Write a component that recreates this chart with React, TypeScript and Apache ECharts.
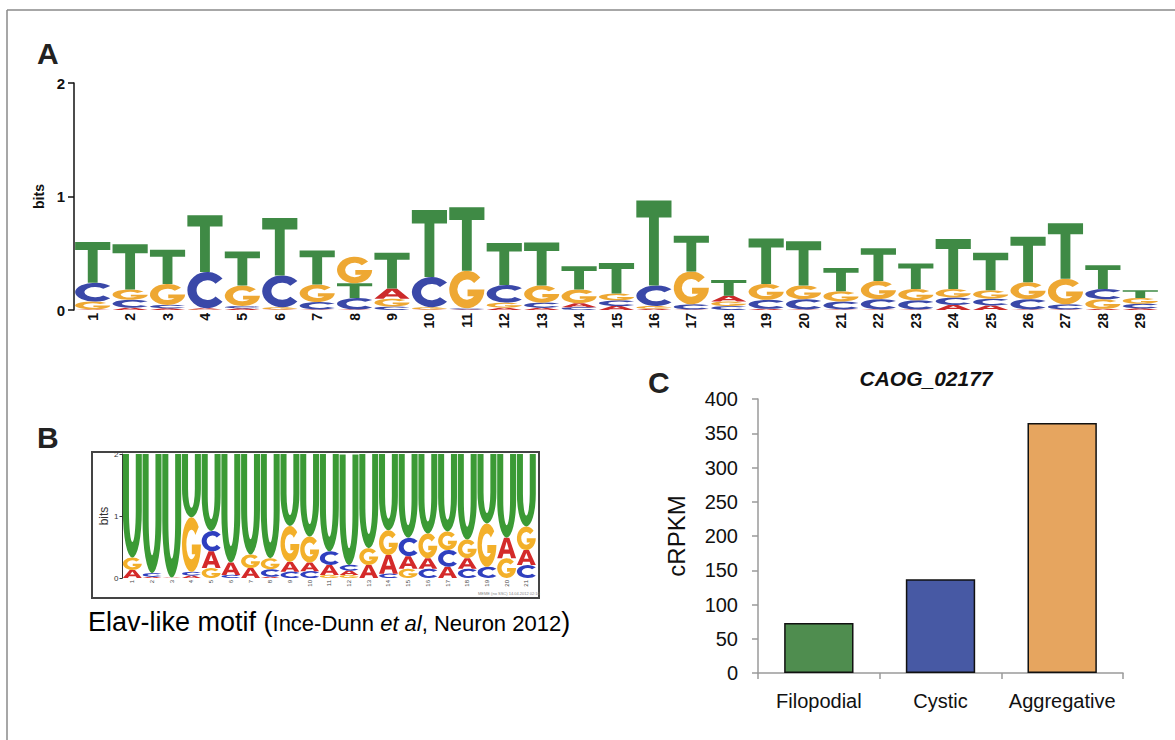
import React, { useEffect, useRef } from 'react';
import * as echarts from 'echarts';

// ---------- Panel A: sequence logo (bits per letter, per position) ----------
const positionsA = ['1','2','3','4','5','6','7','8','9','10','11','12','13','14','15','16','17','18','19','20','21','22','23','24','25','26','27','28','29'];
const logoA_A = [0.005,0.02,0.015,0.01,0.015,0.005,0.005,0.005,0.09,0.005,0.005,0.02,0.02,0.035,0.035,0.01,0.005,0.05,0.01,0.005,0.005,0.005,0.005,0.045,0.04,0.005,0.005,0.01,0.015];
const logoA_C = [0.165,0.07,0.03,0.32,0.02,0.28,0.065,0.10,0.03,0.265,0.01,0.155,0.045,0.025,0.05,0.18,0.045,0.035,0.08,0.09,0.07,0.09,0.08,0.065,0.06,0.09,0.045,0.09,0.04];
const logoA_G = [0.07,0.09,0.185,0.005,0.18,0.02,0.155,0.235,0.07,0.02,0.33,0.045,0.15,0.12,0.06,0.025,0.29,0.04,0.14,0.12,0.09,0.16,0.10,0.075,0.075,0.15,0.225,0.085,0.05];
const logoA_T = [0.36,0.40,0.30,0.50,0.30,0.505,0.30,0.13,0.315,0.59,0.56,0.37,0.38,0.205,0.27,0.75,0.315,0.14,0.40,0.39,0.205,0.29,0.225,0.44,0.33,0.40,0.49,0.21,0.07];

// ---------- Panel B: Elav-like motif ----------
const positionsB = ['1','2','3','4','5','6','7','8','9','10','11','12','13','14','15','16','17','18','19','20','21'];
const logoB_A = [0.13,0.02,0.01,0.04,0.27,0.20,0.16,0.02,0.16,0.14,0.16,0.07,0.21,0.30,0.20,0.17,0.18,0.17,0,0.33,0.24];
const logoB_C = [0,0.06,0,0.06,0.33,0.05,0,0.12,0.10,0.11,0.22,0.09,0,0.07,0.30,0.15,0.27,0.15,0.18,0,0.21];
const logoB_G = [0.20,0,0,0.88,0.16,0,0.22,0.18,0.58,0.42,0.05,0.05,0.27,0.40,0.15,0.40,0.30,0.30,0.70,0.32,0.38];
const logoB_U = [1.67,1.92,1.99,1.02,1.24,1.75,1.62,1.68,1.16,1.33,1.57,1.78,1.52,1.23,1.35,1.28,1.25,1.38,1.12,1.35,1.17];

// ---------- Panel C: expression ----------
const stages = ['Filopodial', 'Cystic', 'Aggregative'];
const cRPKM = [73, 137, 365];
const barColors = ['#4f8d4f', '#4759a4', '#e6a55f'];

const FONT = '"Liberation Sans", Arial, Helvetica, sans-serif';

const GLYPHS: Record<string, string> = {
  A: 'M0 100 L36 0 L64 0 L100 100 L74 100 L67 78 L33 78 L26 100 Z M50 20 L38 58 L62 58 Z',
  C: 'M88.3 17.9 A50 50 0 1 0 88.3 82.1 L70.7 67.4 A27 27 0 1 1 70.7 32.6 Z',
  G: 'M88.3 17.9 A50 50 0 1 0 100 50 L52 50 L52 68 L70.1 68 A27 27 0 1 1 70.7 32.6 Z',
  T: 'M0 0 L100 0 L100 20 L64 20 L64 100 L36 100 L36 20 L0 20 Z',
  U: 'M0 0 L32 0 L32 55 A18 30 0 0 0 68 55 L68 0 L100 0 L100 55 A50 45 0 0 1 0 55 Z',
};

function buildStack(letters: string[], arrays: number[][]) {
  const out: number[][] = [];
  const n = arrays[0].length;
  for (let i = 0; i < n; i++) {
    const items = letters
      .map((l, k) => ({ k, h: arrays[k][i] }))
      .filter((d) => d.h > 0)
      .sort((a, b) => a.h - b.h);
    let y = 0;
    for (const d of items) {
      out.push([i, y, y + d.h, d.k]);
      y += d.h;
    }
  }
  return out;
}

function makeRender(letters: string[], colors: string[], frac: number) {
  return (params: any, api: any) => {
    const i = api.value(0);
    const y0 = api.value(1);
    const y1 = api.value(2);
    const k = api.value(3);
    const b = api.coord([i, y0]);
    const t = api.coord([i, y1]);
    const bw = api.size([1, 0])[0] * frac;
    const h = b[1] - t[1];
    if (h < 0.25) return null;
    return {
      type: 'path',
      shape: {
        pathData: GLYPHS[letters[k]],
        x: b[0] - bw / 2,
        y: t[1],
        width: bw,
        height: h,
        layout: 'cover',
      },
      style: { fill: colors[k] },
    };
  };
}

const lettersA = ['A', 'C', 'G', 'T'];
const colorsA = ['#cc2a2a', '#3a48a8', '#eea833', '#3f8a45'];
const lettersB = ['A', 'C', 'G', 'U'];
const colorsB = ['#d42a2a', '#2f3fbf', '#f3b02a', '#3b9a35'];

export default function App() {
  const ref = useRef<HTMLDivElement>(null);
  useEffect(() => {
    if (!ref.current) return;
    const chart = echarts.init(ref.current, null, { renderer: 'svg' });
    const stackA = buildStack(lettersA, [logoA_A, logoA_C, logoA_G, logoA_T]);
    const stackB = buildStack(lettersB, [logoB_A, logoB_C, logoB_G, logoB_U]);
    chart.setOption({
      animation: false,
      backgroundColor: '#ffffff',
      textStyle: { fontFamily: FONT },
      grid: [
        { left: 74, top: 83, width: 1085, height: 227 },
        { left: 122.5, top: 454, width: 413.7, height: 124 },
        { left: 758, top: 399, width: 365, height: 274 },
      ],
      xAxis: [
        {
          gridIndex: 0,
          type: 'category',
          data: positionsA,
          axisLine: { show: false },
          axisTick: { show: false },
          axisLabel: { interval: 0, rotate: 90, fontSize: 14, fontWeight: 'bold', color: '#111', margin: 3, fontFamily: FONT },
        },
        {
          gridIndex: 1,
          type: 'category',
          data: positionsB,
          axisLine: { show: false },
          axisTick: { show: false },
          axisLabel: { interval: 0, rotate: 90, fontSize: 6, color: '#444', margin: 2, fontFamily: FONT },
        },
        {
          gridIndex: 2,
          type: 'category',
          data: stages,
          axisLine: { lineStyle: { color: '#9a9a9a', width: 1.5 } },
          axisTick: { show: true, length: 6, lineStyle: { color: '#9a9a9a', width: 1.5 } },
          axisLabel: { interval: 0, hideOverlap: false, fontSize: 20, color: '#111', margin: 18, fontFamily: FONT },
        },
      ],
      yAxis: [
        {
          gridIndex: 0,
          type: 'value',
          min: 0,
          max: 2,
          interval: 1,
          name: 'bits',
          nameLocation: 'middle',
          nameGap: 20,
          nameTextStyle: { fontSize: 14, fontWeight: 'bold', color: '#111', fontFamily: FONT },
          axisLine: { show: true, lineStyle: { color: '#111', width: 1.5 } },
          axisTick: { show: true, length: 6, lineStyle: { color: '#111', width: 1.5 } },
          axisLabel: { fontSize: 15, fontWeight: 'bold', color: '#111', margin: 9, fontFamily: FONT },
          splitLine: { show: false },
        },
        {
          gridIndex: 1,
          type: 'value',
          min: 0,
          max: 2,
          interval: 1,
          name: 'bits',
          nameLocation: 'middle',
          nameGap: 13,
          nameTextStyle: { fontSize: 12, color: '#333', fontFamily: FONT },
          axisLine: { show: true, lineStyle: { color: '#333', width: 1 } },
          axisTick: { show: true, length: 3, lineStyle: { color: '#333', width: 1 } },
          axisLabel: { fontSize: 8, color: '#333', margin: 4, fontFamily: FONT },
          splitLine: { show: false },
        },
        {
          gridIndex: 2,
          type: 'value',
          min: 0,
          max: 400,
          interval: 50,
          name: 'cRPKM',
          nameLocation: 'middle',
          nameGap: 70,
          nameTextStyle: { fontSize: 24, color: '#111', fontFamily: FONT },
          axisLine: { show: true, lineStyle: { color: '#9a9a9a', width: 1.5 } },
          axisTick: { show: true, length: 6, lineStyle: { color: '#9a9a9a', width: 1.5 } },
          axisLabel: { fontSize: 20, color: '#111', margin: 20, fontFamily: FONT },
          splitLine: { show: false },
        },
      ],
      series: [
        {
          type: 'custom',
          xAxisIndex: 0,
          yAxisIndex: 0,
          data: stackA,
          renderItem: makeRender(lettersA, colorsA, 0.94),
          clip: true,
        },
        {
          type: 'custom',
          xAxisIndex: 1,
          yAxisIndex: 1,
          data: stackB,
          renderItem: makeRender(lettersB, colorsB, 0.96),
          clip: true,
        },
        {
          type: 'bar',
          xAxisIndex: 2,
          yAxisIndex: 2,
          barWidth: '57%',
          data: cRPKM.map((v, i) => ({ value: v, itemStyle: { color: barColors[i] } })),
          itemStyle: { borderColor: '#111', borderWidth: 1.5 },
        },
      ],
      graphic: [
        { type: 'line', shape: { x1: 7, y1: 10, x2: 1175, y2: 10 }, style: { stroke: '#8a8a8a', lineWidth: 1.5 } },
        { type: 'line', shape: { x1: 7, y1: 10, x2: 7, y2: 740 }, style: { stroke: '#8a8a8a', lineWidth: 1.5 } },
        { type: 'text', x: 37, y: 53, style: { text: 'A', font: `bold 30px ${FONT}`, fill: '#222', textVerticalAlign: 'middle' } },
        { type: 'text', x: 37, y: 437, style: { text: 'B', font: `bold 30px ${FONT}`, fill: '#222', textVerticalAlign: 'middle' } },
        { type: 'text', x: 648, y: 382, style: { text: 'C', font: `bold 30px ${FONT}`, fill: '#222', textVerticalAlign: 'middle' } },
        { type: 'text', x: 926, y: 378, style: { text: 'CAOG_02177', font: `italic bold 21px ${FONT}`, fill: '#111', textAlign: 'center', textVerticalAlign: 'middle' } },
        {
          type: 'rect',
          z: 100,
          shape: { x: 92, y: 452, width: 447, height: 146 },
          style: { fill: 'none', stroke: '#444', lineWidth: 2 },
        },
        {
          type: 'text',
          z: 100,
          x: 478,
          y: 593,
          style: { text: 'MEME (no SSC) 14.04.2012 02:10', font: `4px ${FONT}`, fill: '#888', textVerticalAlign: 'middle' },
        },
        {
          type: 'text',
          x: 88,
          y: 622,
          style: {
            text: '{a|Elav-like motif (}{b|Ince-Dunn }{i|et al}{b|, Neuron 2012}{a|)}',
            textVerticalAlign: 'middle',
            rich: {
              a: { fontSize: 27, fontFamily: FONT, color: '#111', verticalAlign: 'bottom' },
              b: { fontSize: 22, fontFamily: FONT, color: '#111', verticalAlign: 'bottom', padding: [0, 0, 1, 0] },
              i: { fontSize: 22, fontFamily: FONT, fontStyle: 'italic', color: '#111', verticalAlign: 'bottom', padding: [0, 0, 1, 0] },
            },
          },
        },
      ],
    });
    return () => chart.dispose();
  }, []);
  return (
    <div
      ref={ref}
      style={{ position: 'absolute', left: 0, top: 0, width: 1175, height: 740, background: '#fff' }}
    />
  );
}
